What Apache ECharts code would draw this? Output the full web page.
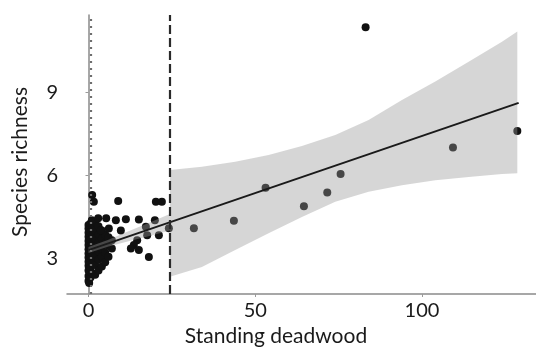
<!DOCTYPE html>
<html>
<head>
<meta charset="utf-8">
<script src="https://cdn.jsdelivr.net/npm/echarts@6/dist/echarts.min.js"></script>
<style>
html,body{margin:0;padding:0;background:#fff;}
#chart{width:536px;height:355px;}
</style>
</head>
<body>
<div id="chart"></div>
<script>
// ---- data ----
const xTicks = [0, 50, 100];
const yTicks = [3, 6, 9];
const xTitle = 'Standing deadwood';
const yTitle = 'Species richness';

// sites: [standing deadwood, species richness]
const sitesScattered = [
  [1.1, 5.28], [1.6, 5.04], [8.9, 5.07], [20.2, 5.04], [22.0, 5.04],
  [1.0, 4.37], [2.9, 4.44], [5.3, 4.44], [8.2, 4.37], [11.2, 4.41], [15.1, 4.40], [19.9, 4.37],
  [17.2, 4.13], [17.6, 3.83], [21.1, 3.83], [14.6, 3.65], [13.6, 3.47], [12.7, 3.35],
  [15.1, 3.29], [18.1, 3.04], [6.1, 4.07], [3.7, 4.01], [9.7, 4.0]
];
const sitesDense = [
  [0, 2.17], [0, 2.35], [0, 2.55], [0, 2.72], [0, 2.87], [0, 3.02], [0, 3.17], [0, 3.32],
  [0, 3.47], [0, 3.62], [0, 3.77], [0, 3.92], [0, 4.07], [0, 4.2], [0.2, 2.1],
  [0.6, 2.3], [0.6, 2.65], [0.6, 3.05], [0.6, 3.35], [0.6, 3.65], [0.6, 3.95], [0.6, 4.25],
  [1.2, 2.45], [1.2, 2.8], [1.2, 3.15], [1.2, 3.5], [1.2, 3.85], [1.2, 4.15],
  [2, 2.4], [2, 2.75], [2, 3.05], [2, 3.4], [2, 3.7], [2, 4.0], [2, 4.3],
  [3, 2.55], [3, 2.95], [3, 3.25], [3, 3.55], [3, 3.85], [3, 4.15],
  [4, 2.7], [4, 3.05], [4, 3.35], [4, 3.7], [4, 4.0],
  [5, 2.85], [5, 3.2], [5, 3.55], [5, 3.85],
  [6, 3.05], [6, 3.45], [6, 3.75],
  [7, 3.35], [7, 3.65]
];
const sitesHigh = [
  [24.1, 4.08], [31.6, 4.08], [43.6, 4.35], [53.1, 5.55], [64.6, 4.88],
  [71.6, 5.37], [75.6, 6.04], [83.1, 11.36], [109.3, 7.0], [128.6, 7.6]
];

// fitted line
const fitX = [0, 129];
const fitY = [3.29, 8.62];

// confidence band, left part
const bandLeftX = [0, 6, 12, 18, 24.4];
const bandLeftLower = [3.18, 3.42, 3.61, 3.79, 4.00];
const bandLeftUpper = [3.40, 3.66, 3.97, 4.27, 4.60];

// confidence band, right part
const bandRightX = [24.4, 34, 44, 54, 64, 74, 84, 94, 104, 114, 124, 128.6];
const bandRightLower = [2.32, 2.68, 3.29, 3.90, 4.49, 5.04, 5.40, 5.64, 5.82, 5.94, 6.04, 6.07];
const bandRightUpper = [6.19, 6.31, 6.49, 6.73, 7.06, 7.46, 8.00, 8.72, 9.39, 10.11, 10.83, 11.20];

// reference lines
const refDotted = 0.6;
const refDashed = 24.4;

// ---- chart ----
const FONT = 'Lato';
const bandFill = 'rgba(153,153,153,0.4)';

function pairs(xs, ys) { return xs.map((x, i) => [x, ys[i]]); }

function bandSeries(xs, lo, hi) {
  return {
    type: 'custom', coordinateSystem: 'cartesian2d', silent: true, z: 3, clip: true,
    data: [[xs[0], lo[0]]],
    renderItem: function (params, api) {
      const pts = [];
      for (let i = 0; i < xs.length; i++) pts.push(api.coord([xs[i], hi[i]]));
      for (let i = xs.length - 1; i >= 0; i--) pts.push(api.coord([xs[i], lo[i]]));
      return { type: 'polygon', shape: { points: pts }, style: { fill: bandFill, stroke: null } };
    }
  };
}

const chart = echarts.init(document.getElementById('chart'), null, { renderer: 'canvas' });
chart.setOption({
  animation: false,
  backgroundColor: '#ffffff',
  textStyle: { fontFamily: FONT },
  grid: { left: 67, top: 15, right: 0, bottom: 61 },
  xAxis: {
    type: 'value', min: -6.45, max: 134.2,
    name: xTitle, nameLocation: 'middle', nameGap: 30,
    nameTextStyle: { fontSize: 21, color: '#1a1a1a', fontFamily: FONT, padding: [0, 51, 0, 0] },
    splitLine: { show: false },
    axisLine: { show: true, lineStyle: { color: '#8a8a8a', width: 1.5 } },
    axisTick: { show: true, customValues: xTicks, length: 3, lineStyle: { color: '#9a9a9a' } },
    axisLabel: { customValues: xTicks, fontSize: 20, color: '#1a1a1a', margin: 7, fontFamily: FONT }
  },
  yAxis: {
    type: 'value', min: 1.70, max: 11.80,
    name: yTitle, nameLocation: 'middle', nameGap: 36, nameRotate: 90,
    nameTextStyle: { fontSize: 21, color: '#1a1a1a', fontFamily: FONT, padding: [0, 15, 0, 0] },
    splitLine: { show: false },
    axisLine: { show: true, lineStyle: { color: '#8a8a8a', width: 1.5 } },
    axisTick: { show: true, customValues: yTicks, length: 3, lineStyle: { color: '#9a9a9a' } },
    axisLabel: { customValues: yTicks, fontSize: 20, color: '#1a1a1a', margin: 9, fontFamily: FONT }
  },
  series: [
    {
      type: 'scatter', data: sitesDense.concat(sitesScattered, sitesHigh),
      symbolSize: 8, itemStyle: { color: '#111111', opacity: 1 }, z: 2,
      markLine: {
        silent: true, symbol: ['none', 'none'], label: { show: false },
        data: [
          { xAxis: refDotted, lineStyle: { type: [2, 5], color: '#6e6e6e', width: 2.2 } },
          { xAxis: refDashed, lineStyle: { type: [9, 4], color: '#2a2a2a', width: 2.2 } }
        ]
      }
    },
    bandSeries(bandLeftX, bandLeftLower, bandLeftUpper),
    bandSeries(bandRightX, bandRightLower, bandRightUpper),
    {
      type: 'line', data: pairs(fitX, fitY), symbol: 'none',
      lineStyle: { color: '#1a1a1a', width: 2 }, z: 4, silent: true
    }
  ]
});
</script>
</body>
</html>
